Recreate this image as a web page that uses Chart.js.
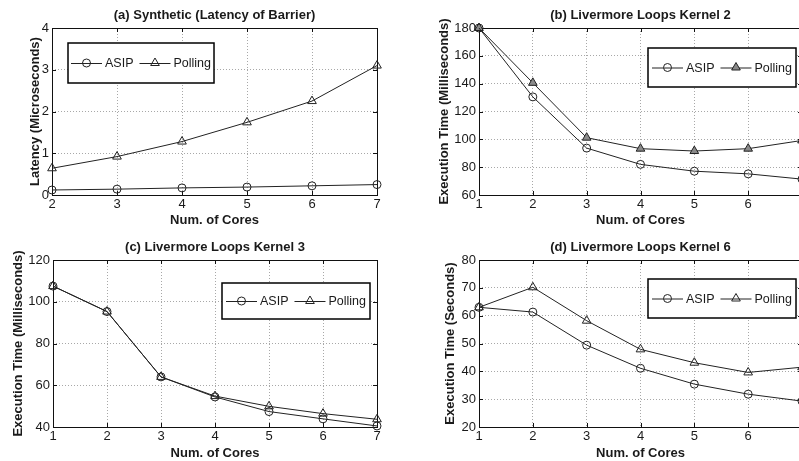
<!DOCTYPE html>
<html>
<head>
<meta charset="utf-8">
<script src="https://cdn.jsdelivr.net/npm/chart.js@4.4.0/dist/chart.umd.min.js"></script>
<style>
  html, body { margin: 0; padding: 0; width: 799px; height: 461px; overflow: hidden; background: #fff; }
  canvas { position: absolute; }
</style>
</head>
<body>
<canvas id="chartA" width="400" height="230" style="left:0;top:0"></canvas>
<canvas id="chartB" width="410" height="230" style="left:400px;top:0"></canvas>
<canvas id="chartC" width="400" height="231" style="left:0;top:230px"></canvas>
<canvas id="chartD" width="410" height="231" style="left:400px;top:230px"></canvas>
<script>
// values
const coresA = ['2', '3', '4', '5', '6', '7'];
const asipA = [0.12, 0.14, 0.17, 0.19, 0.22, 0.25];
const pollingA = [0.64, 0.92, 1.28, 1.74, 2.25, 3.10];

const coresK = ['1', '2', '3', '4', '5', '6', '7'];
const asipK2 = [180, 130.5, 93.7, 82, 77.1, 75.2, 71.4];
const pollingK2 = [180, 140.6, 101.2, 93.3, 91.6, 93.3, 99.2];
const asipK3 = [107.5, 95.3, 64, 54.4, 47.4, 43.9, 40.5];
const pollingK3 = [107.5, 95.3, 64, 54.8, 49.9, 46.4, 43.7];
const asipK6 = [63, 61.3, 49.4, 41.1, 35.4, 31.8, 29.3];
const pollingK6 = [63, 70.2, 58.2, 47.9, 43.1, 39.6, 41.5];

const FONT = '"Liberation Sans", Arial, Helvetica, sans-serif';
const INK = '#1a1a1a';

function drawMarker(ctx, style, x, y, r) {
  ctx.beginPath();
  if (style === 'triangle') {
    ctx.moveTo(x, y - r);
    ctx.lineTo(x + r * 0.866, y + r * 0.5);
    ctx.lineTo(x - r * 0.866, y + r * 0.5);
    ctx.closePath();
  } else {
    ctx.arc(x, y, r, 0, Math.PI * 2);
  }
  ctx.fill();
  ctx.stroke();
}

// matlab style box with inward ticks
const frame = {
  id: 'frame',
  beforeDatasetsDraw(chart) {
    const { ctx, chartArea: a, scales } = chart;
    ctx.save();
    ctx.strokeStyle = '#111';
    ctx.lineWidth = 1;
    ctx.beginPath();
    scales.y.ticks.forEach((t) => {
      const py = Math.round(scales.y.getPixelForValue(t.value)) + 0.5;
      ctx.moveTo(a.left, py); ctx.lineTo(a.left + 4, py);
      ctx.moveTo(a.right, py); ctx.lineTo(a.right - 4, py);
    });
    scales.x.ticks.forEach((t, i) => {
      const px = Math.round(scales.x.getPixelForTick(i)) + 0.5;
      ctx.moveTo(px, a.bottom); ctx.lineTo(px, a.bottom - 4);
      ctx.moveTo(px, a.top); ctx.lineTo(px, a.top + 4);
    });
    ctx.stroke();
    ctx.strokeRect(Math.round(a.left) + 0.5, Math.round(a.top) + 0.5,
      Math.round(a.right - a.left), Math.round(a.bottom - a.top));
    ctx.restore();
  }
};

// boxed legend inside the plot
const boxLegend = {
  id: 'boxLegend',
  afterDraw(chart, args, opts) {
    const ctx = chart.ctx;
    const sets = chart.data.datasets;
    ctx.save();
    ctx.font = '12.5px ' + FONT;
    let w = opts.pad * 2;
    sets.forEach((ds, i) => {
      w += opts.lineLen + opts.gap + ctx.measureText(ds.label).width + (i ? opts.itemGap : 0);
    });
    ctx.fillStyle = '#fff';
    ctx.fillRect(opts.left, opts.top, w, opts.height);
    ctx.lineWidth = 1.5;
    ctx.strokeStyle = '#000';
    ctx.strokeRect(opts.left, opts.top, w, opts.height);
    let x = opts.left + opts.pad;
    const y = opts.top + opts.height / 2;
    sets.forEach((ds) => {
      ctx.strokeStyle = ds.borderColor;
      ctx.lineWidth = 1;
      ctx.beginPath();
      ctx.moveTo(x, y + 0.5);
      ctx.lineTo(x + opts.lineLen, y + 0.5);
      ctx.stroke();
      ctx.fillStyle = ds.pointBackgroundColor;
      drawMarker(ctx, ds.pointStyle, x + opts.lineLen / 2, y, ds.pointRadius);
      x += opts.lineLen + opts.gap;
      ctx.fillStyle = INK;
      ctx.textBaseline = 'middle';
      ctx.textAlign = 'left';
      ctx.fillText(ds.label, x, y + 1);
      x += ctx.measureText(ds.label).width + opts.itemGap;
    });
    ctx.restore();
  }
};

function panel(id, p) {
  new Chart(document.getElementById(id), {
    type: 'line',
    plugins: [frame, boxLegend],
    data: {
      labels: p.labels,
      datasets: [{
        label: 'ASIP',
        data: p.asip,
        borderColor: '#222',
        borderWidth: 1,
        pointStyle: 'circle',
        pointRadius: 4,
        pointBorderWidth: 1,
        pointBorderColor: '#222',
        pointBackgroundColor: 'rgba(255,255,255,0)',
        tension: 0,
        clip: 6
      }, {
        label: 'Polling',
        data: p.polling,
        borderColor: '#222',
        borderWidth: 1,
        pointStyle: 'triangle',
        pointRadius: 5,
        pointBorderWidth: 1,
        pointBorderColor: '#222',
        pointBackgroundColor: p.triFill,
        tension: 0,
        clip: 6
      }]
    },
    options: {
      responsive: false,
      animation: false,
      layout: { padding: { left: 0, right: p.padRight, top: 0, bottom: 0 } },
      plugins: {
        legend: { display: false },
        tooltip: { enabled: false },
        title: {
          display: true,
          fullSize: false,
          text: p.title,
          color: INK,
          font: { family: FONT, size: 13, weight: 'bold' },
          padding: { top: p.titleTop, bottom: p.titleBottom }
        },
        boxLegend: p.legend
      },
      scales: {
        x: {
          grid: { color: '#a8a8a8', drawTicks: false },
          border: { display: false, dash: [1, 2] },
          ticks: { color: INK, font: { family: FONT, size: 13 }, padding: 2, maxRotation: 0, autoSkip: false },
          title: {
            display: true,
            text: 'Num. of Cores',
            color: INK,
            font: { family: FONT, size: 13, weight: 'bold' },
            padding: { top: 0, bottom: p.xTitlePad }
          },
          afterFit: (s) => { s.height = p.xHeight; }
        },
        y: {
          min: p.yMin,
          max: p.yMax,
          grid: { color: '#a8a8a8', drawTicks: false },
          border: { display: false, dash: [1, 2] },
          ticks: { stepSize: p.yStep, color: INK, font: { family: FONT, size: 13 }, padding: 3 },
          title: {
            display: true,
            text: p.yTitle,
            color: INK,
            font: { family: FONT, size: 13, weight: 'bold' },
            padding: { top: p.yTitlePad, bottom: 0 }
          },
          afterFit: (s) => { s.width = p.yWidth; }
        }
      }
    }
  });
}

const hollow = 'rgba(255,255,255,0)';

panel('chartA', {
  title: '(a) Synthetic (Latency of Barrier)',
  yTitle: 'Latency (Microseconds)',
  labels: coresA, asip: asipA, polling: pollingA,
  yMin: 0, yMax: 4, yStep: 1,
  yWidth: 52, padRight: 23, xHeight: 35, titleTop: 7.2, titleBottom: 5.2,
  yTitlePad: 27.2, xTitlePad: 2.2, triFill: hollow,
  legend: { left: 68, top: 43, height: 40, pad: 3, lineLen: 31, gap: 3, itemGap: 6 }
});

panel('chartB', {
  title: '(b) Livermore Loops Kernel 2',
  yTitle: 'Execution Time (Milliseconds)',
  labels: coresK, asip: asipK2, polling: pollingK2,
  yMin: 60, yMax: 180, yStep: 20,
  yWidth: 79, padRight: 8, xHeight: 35, titleTop: 7.2, titleBottom: 5.2,
  yTitlePad: 36.2, xTitlePad: 2.2, triFill: '#8a8a8a',
  legend: { left: 248, top: 48, height: 39, pad: 4, lineLen: 31, gap: 3, itemGap: 6 }
});

panel('chartC', {
  title: '(c) Livermore Loops Kernel 3',
  yTitle: 'Execution Time (Milliseconds)',
  labels: coresK, asip: asipK3, polling: pollingK3,
  yMin: 40, yMax: 120, yStep: 20,
  yWidth: 53, padRight: 23, xHeight: 34, titleTop: 9.7, titleBottom: 4.7,
  yTitlePad: 10.2, xTitlePad: 0, triFill: hollow,
  legend: { left: 222, top: 53, height: 36, pad: 4, lineLen: 31, gap: 3, itemGap: 6 }
});

panel('chartD', {
  title: '(d) Livermore Loops Kernel 6',
  yTitle: 'Execution Time (Seconds)',
  labels: coresK, asip: asipK6, polling: pollingK6,
  yMin: 20, yMax: 80, yStep: 10,
  yWidth: 79, padRight: 8, xHeight: 34, titleTop: 9.7, titleBottom: 4.7,
  yTitlePad: 42.2, xTitlePad: 0, triFill: hollow,
  legend: { left: 248, top: 49, height: 39, pad: 4, lineLen: 31, gap: 3, itemGap: 6 }
});
</script>
</body>
</html>
